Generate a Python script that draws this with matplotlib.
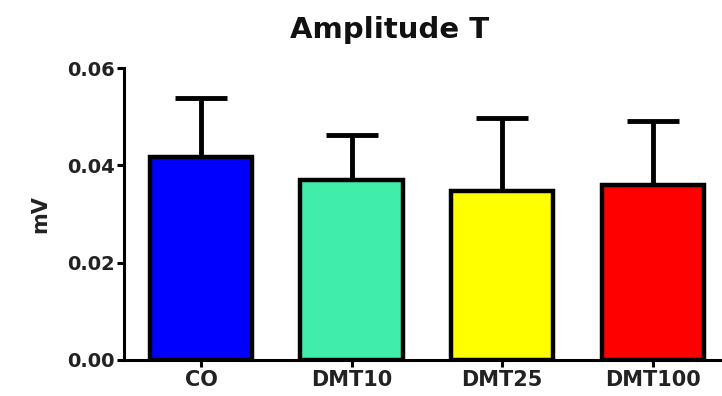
import matplotlib
matplotlib.use("Agg")
import matplotlib.pyplot as plt

categories = ["CO", "DMT10", "DMT25", "DMT100"]
means = [0.0418, 0.0369, 0.0347, 0.0360]
errors = [0.0121, 0.0093, 0.0150, 0.0131]
colors = ["#0000ff", "#40eeaa", "#ffff00", "#ff0000"]
yticks = [0.00, 0.02, 0.04, 0.06]

plt.rcParams['font.family'] = ['DejaVu Sans']
fig = plt.figure(figsize=(7.22, 3.96), dpi=100)
ax = fig.add_axes([0.172, 0.091, 0.828, 0.737])

x = range(len(categories))
ax.bar(x, means, width=0.68, color=colors, edgecolor="black", linewidth=3.2, zorder=2)
ax.errorbar(x, means, yerr=[[0]*len(means), errors], fmt="none", ecolor="black",
            elinewidth=3.5, capsize=19, capthick=3.5, zorder=1)

ax.set_xlim(-0.51, 3.46)
ax.set_ylim(0, 0.06)
ax.set_yticks(yticks)
ax.set_yticklabels([f"{v:.2f}" for v in yticks], fontsize=14, fontweight="bold", color="#222222")
ax.set_xticks(list(x))
ax.set_xticklabels(categories, fontsize=15, fontweight="bold", color="#222222")
ax.set_ylabel("mV", fontsize=15, fontweight="bold", labelpad=12, color="#222222")
fig.text(0.540, 0.905, "Amplitude T", fontsize=21, fontweight="bold",
         ha="center", va="baseline", color="#111111")

for s in ["top", "right"]:
    ax.spines[s].set_visible(False)
for s in ["left", "bottom"]:
    ax.spines[s].set_linewidth(2.2)
ax.tick_params(axis="both", width=2.2, length=5, direction="out", pad=2)

fig.savefig("out.png", dpi=100)
